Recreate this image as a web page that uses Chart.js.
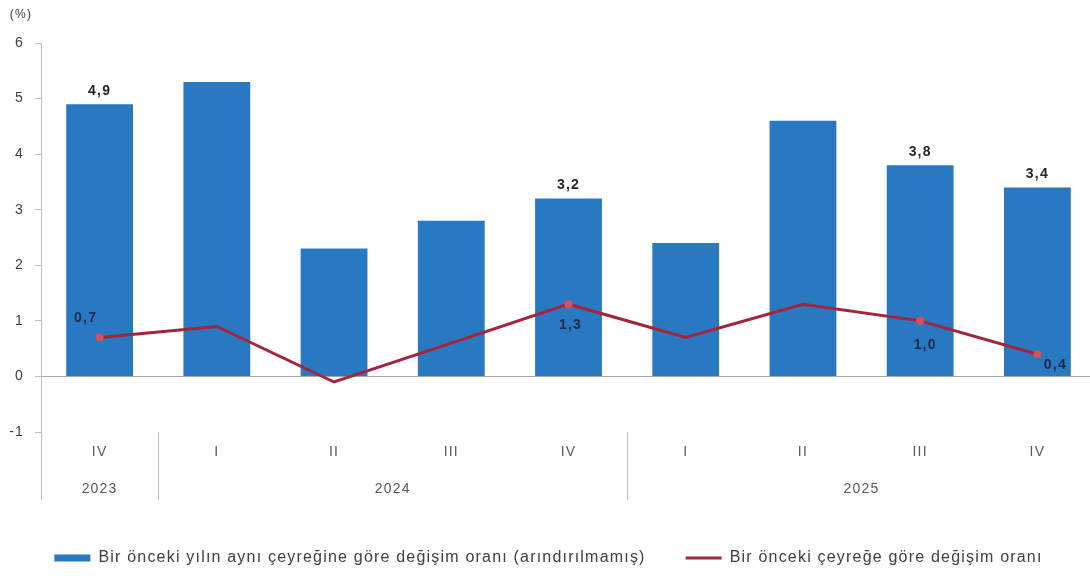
<!DOCTYPE html>
<html>
<head>
<meta charset="utf-8">
<script src="https://cdn.jsdelivr.net/npm/chart.js@4.4.1/dist/chart.umd.min.js"></script>
<style>
  html, body { margin: 0; padding: 0; background: #fff; overflow: hidden; }
  #wrap { width: 1100px; height: 576px; }
</style>
</head>
<body>
<div id="wrap"><canvas id="chart"></canvas></div>
<script>
// data
const quarters = ['IV', 'I', 'II', 'III', 'IV', 'I', 'II', 'III', 'IV'];
const years = ['2023', '2024', '2025'];
const yearFirst = [0, 1, 5];   // first quarter index of each year
const yearLast = [0, 4, 8];    // last quarter index of each year
const annualChange = [4.9, 5.3, 2.3, 2.8, 3.2, 2.4, 4.6, 3.8, 3.4];
const quarterlyChange = [0.7, 0.9, -0.1, 0.6, 1.3, 0.7, 1.3, 1.0, 0.4];
const labelledBars = [0, 4, 7, 8];
const labelledPoints = [0, 4, 7, 8];
const yMin = -1, yMax = 6;

const fmt = v => v.toFixed(1).replace('.', ',');
const FONT = "'Liberation Sans', Arial, sans-serif";
const SPACING = '1.2px';

// where each line label sits relative to its point
const pointLabelOffset = { 0: [-14, -19], 4: [2, 21], 7: [5, 24], 8: [18, 11] };

// the source text is set rather wide, so space the letters a little
const wideText = {
  id: 'wideText',
  beforeUpdate(chart) { chart.ctx.letterSpacing = SPACING; },
  beforeDraw(chart) { chart.ctx.letterSpacing = SPACING; }
};

const valueLabels = {
  id: 'valueLabels',
  afterDatasetsDraw(chart) {
    const ctx = chart.ctx;
    ctx.save();
    ctx.font = 'bold 14px ' + FONT;
    ctx.textAlign = 'center';
    ctx.textBaseline = 'middle';
    const bars = chart.getDatasetMeta(0).data;
    ctx.fillStyle = '#262626';
    labelledBars.forEach(i => {
      ctx.fillText(fmt(annualChange[i]), bars[i].x, bars[i].y - 13);
    });
    const pts = chart.getDatasetMeta(1).data;
    ctx.fillStyle = '#1b2a48';
    labelledPoints.forEach(i => {
      const o = pointLabelOffset[i];
      ctx.fillText(fmt(quarterlyChange[i]), pts[i].x + o[0], pts[i].y + o[1]);
    });
    ctx.restore();
  }
};

const yearAxis = {
  id: 'yearAxis',
  afterDraw(chart) {
    const ctx = chart.ctx;
    const x = chart.scales.x;
    const area = chart.chartArea;
    const half = (x.getPixelForValue(1) - x.getPixelForValue(0)) / 2;
    ctx.save();
    ctx.strokeStyle = '#bfbfbf';
    ctx.lineWidth = 1;
    const seps = [area.left];
    yearFirst.forEach((f, k) => { if (k > 0) seps.push(x.getPixelForValue(f) - half); });
    seps.forEach(px => {
      ctx.beginPath();
      ctx.moveTo(Math.round(px) + 0.5, area.bottom);
      ctx.lineTo(Math.round(px) + 0.5, area.bottom + 68);
      ctx.stroke();
    });
    ctx.font = '14px ' + FONT;
    ctx.fillStyle = '#595959';
    ctx.textAlign = 'center';
    ctx.textBaseline = 'middle';
    years.forEach((y, k) => {
      const cx = (x.getPixelForValue(yearFirst[k]) + x.getPixelForValue(yearLast[k])) / 2;
      ctx.fillText(y, cx, area.bottom + 57);
    });
    // unit label
    ctx.font = '12px ' + FONT;
    ctx.fillStyle = '#404040';
    ctx.fillText('(%)', 21, 15);
    ctx.restore();
  }
};

new Chart(document.getElementById('chart'), {
  data: {
    labels: quarters,
    datasets: [
      {
        type: 'bar',
        label: 'Bir önceki yılın aynı çeyreğine göre değişim oranı (arındırılmamış)',
        data: annualChange,
        backgroundColor: '#2979c2',
        barPercentage: 0.57,
        categoryPercentage: 1.0,
        order: 2
      },
      {
        type: 'line',
        label: 'Bir önceki çeyreğe göre değişim oranı',
        data: quarterlyChange,
        borderColor: '#a3243b',
        backgroundColor: '#a3243b',
        borderWidth: 3,
        pointRadius: quarterlyChange.map((v, i) => labelledPoints.includes(i) ? 4 : 0),
        pointBackgroundColor: '#d4525a',
        pointBorderWidth: 0,
        tension: 0,
        order: 1
      }
    ]
  },
  options: {
    responsive: true,
    maintainAspectRatio: false,
    animation: false,
    layout: { padding: { top: 43, right: 3, left: 0, bottom: 0 } },
    plugins: {
      tooltip: { enabled: false },
      legend: {
        position: 'bottom',
        labels: {
          usePointStyle: true,
          pointStyleWidth: 36,
          boxHeight: 7,
          padding: 40,
          color: '#404040',
          font: { family: FONT, size: 16 },
          generateLabels(chart) {
            return chart.data.datasets.map((ds, i) => ({
              text: ds.label,
              fillStyle: i === 0 ? '#2979c2' : '#a3243b',
              strokeStyle: i === 0 ? '#2979c2' : '#a3243b',
              lineWidth: i === 0 ? 0 : 3,
              pointStyle: i === 0 ? 'rect' : 'line',
              datasetIndex: i,
              fontColor: '#404040'
            }));
          }
        }
      }
    },
    scales: {
      x: {
        grid: { display: false, drawTicks: false },
        border: { display: false },
        ticks: { color: '#595959', font: { family: FONT, size: 14 }, padding: 12, maxRotation: 0 },
        afterFit(s) { s.height = 78; }
      },
      y: {
        min: yMin,
        max: yMax,
        ticks: { stepSize: 1, color: '#404040', font: { family: FONT, size: 14 }, padding: 11 },
        grid: {
          color: c => c.tick && c.tick.value === 0 ? '#a6a6a6' : 'transparent',
          tickColor: '#bfbfbf',
          tickLength: 6
        },
        border: { display: true, color: '#bfbfbf' },
        afterFit(s) { s.width = 41; }
      }
    }
  },
  plugins: [wideText, valueLabels, yearAxis]
});
</script>
</body>
</html>
